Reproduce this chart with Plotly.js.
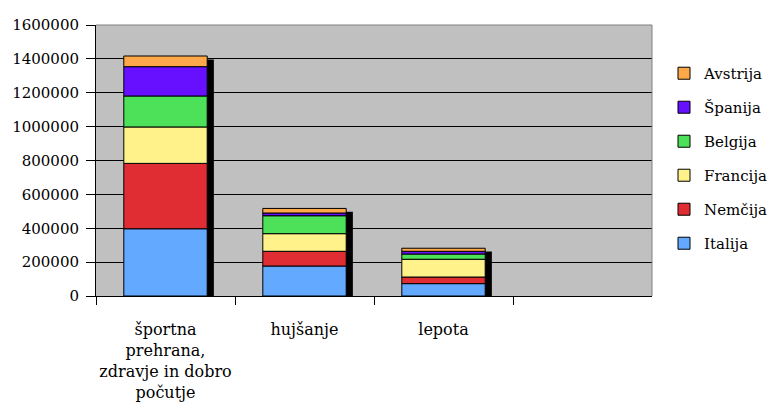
<!DOCTYPE html>
<html>
<head>
<meta charset="utf-8">
<script src="https://cdn.plot.ly/plotly-3.0.1.min.js"></script>
<style>
  html, body { margin: 0; padding: 0; overflow: hidden; background: #ffffff; }
  #chart { width: 779px; height: 412px; }
</style>
</head>
<body>
<div id="chart"></div>
<script>
// categories on the x axis
const categories = ['športna<br>prehrana,<br>zdravje in dobro<br>počutje', 'hujšanje', 'lepota'];

// stacked values per country (bottom to top)
const italija  = [397000, 177000, 73000];
const nemcija  = [386000,  87000, 39000];
const francija = [215000, 104000, 105000];
const belgija  = [183000, 106000, 31000];
const spanija  = [173000,  16000, 16000];
const avstrija = [ 63000,  27000, 18000];

const seriesNames  = ['Italija', 'Nemčija', 'Francija', 'Belgija', 'Španija', 'Avstrija'];
const seriesValues = [italija, nemcija, francija, belgija, spanija, avstrija];
const seriesColors = ['#63A9FF', '#DF2D33', '#FFF28A', '#4CE159', '#6610FF', '#FFA84A'];

const yTicks = [0, 200000, 400000, 600000, 800000, 1000000, 1200000, 1400000, 1600000];

const serif = 'DejaVu Serif';

// running totals so every segment sits on the ones below it
const traces = [];
const running = categories.map(() => 0);
const segs = [];
seriesValues.forEach((vals, i) => {
  const base = running.slice();
  vals.forEach((v, j) => { running[j] += v; });
  segs.push({
    type: 'bar', name: seriesNames[i], x: categories, y: vals, base: base,
    width: 0.6, legendgroup: 'g' + i, legendrank: 100 - i,
    marker: { color: seriesColors[i], line: { color: '#000000', width: 1 } },
    hoverinfo: 'skip'
  });
});

// drop shadow behind each stack, slightly offset to the lower right
const shadowDrop = 20000, shadowBelow = 13000;
traces.push({
  type: 'bar', x: categories,
  y: running.map(t => t - shadowDrop + shadowBelow),
  base: running.map(() => -shadowBelow),
  width: 0.626, offset: -0.278,
  marker: { color: '#000000', line: { width: 0 } },
  showlegend: false, hoverinfo: 'skip', cliponaxis: false
});
segs.forEach(s => traces.push(s));

const layout = {
  width: 779, height: 412,
  margin: { l: 96, r: 127, t: 25, b: 116, autoexpand: false },
  paper_bgcolor: '#ffffff',
  plot_bgcolor: '#C0C0C0',
  barmode: 'overlay',
  font: { family: serif, size: 15, color: '#000000' },
  showlegend: true,
  legend: {
    x: 1.0216, xanchor: 'left', y: 0.882, yanchor: 'top',
    traceorder: 'grouped', tracegroupgap: 11.5,
    font: { family: serif, size: 15, color: '#000000' },
    bgcolor: 'rgba(0,0,0,0)', borderwidth: 0
  },
  xaxis: {
    type: 'category', categoryorder: 'array', categoryarray: categories,
    range: [-0.5, 3.5], tickson: 'boundaries', tickangle: 0,
    ticks: 'outside', ticklen: 8, tickcolor: '#000000', tickwidth: 1,
    ticklabelstandoff: 19,
    showline: true, linecolor: '#000000', linewidth: 1,
    showgrid: false, zeroline: false,
    tickfont: { family: serif, size: 16, color: '#000000' },
    fixedrange: true
  },
  yaxis: {
    range: [0, 1600000], tickmode: 'array', tickvals: yTicks,
    ticktext: yTicks.map(String),
    ticks: 'outside', ticklen: 9, tickcolor: '#000000', tickwidth: 1,
    ticklabelstandoff: 4,
    showline: true, linecolor: '#000000', linewidth: 1,
    showgrid: true, gridcolor: '#000000', gridwidth: 1,
    zeroline: false,
    tickfont: { family: serif, size: 15, color: '#000000' },
    fixedrange: true
  },
  shapes: [
    { type: 'line', xref: 'paper', yref: 'paper', x0: 0, x1: 1, y0: 1, y1: 1,
      line: { color: '#808080', width: 1 }, layer: 'above' },
    { type: 'line', xref: 'paper', yref: 'paper', x0: 1, x1: 1, y0: 0, y1: 1,
      line: { color: '#808080', width: 1 }, layer: 'above' }
  ]
};

Plotly.newPlot('chart', traces, layout, { staticPlot: true, displayModeBar: false });
</script>
</body>
</html>
